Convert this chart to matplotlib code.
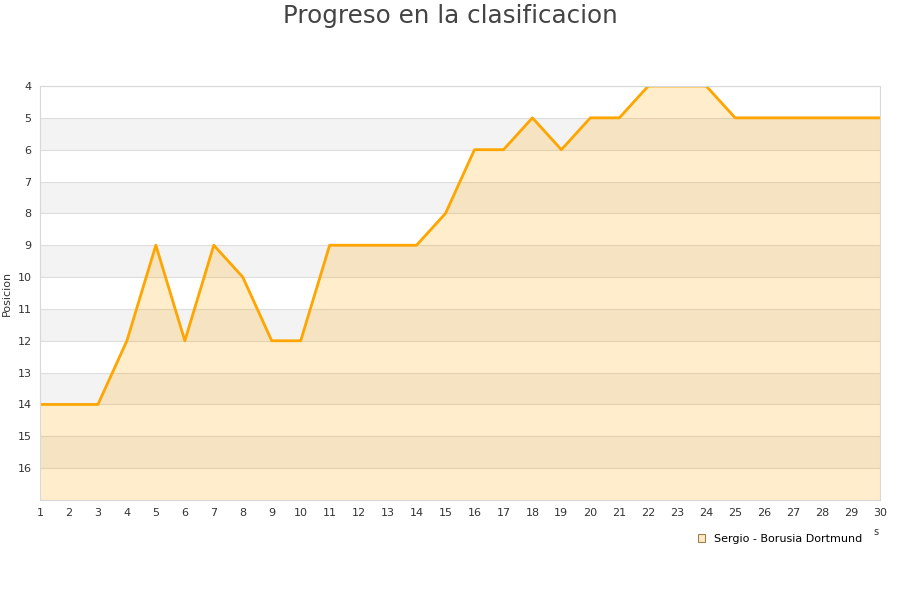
import matplotlib.pyplot as plt
from matplotlib.patches import Patch
import numpy as np

jornadas = list(range(1, 31))
posicion = [14, 14, 14, 12, 9, 12, 9, 10, 12, 12,
            9, 9, 9, 9, 8, 6, 6, 5, 6, 5,
            5, 4, 4, 4, 5, 5, 5, 5, 5, 5]
y_ticks = list(range(4, 17))
serie = 'Sergio - Borusia Dortmund'

fig = plt.figure(figsize=(9, 6), dpi=100)
ax = fig.add_axes([40 / 900, 1 - 500 / 600, 840 / 900, 414 / 600])

# bandas alternas
for k in range(5, 17, 2):
    ax.axhspan(k, k + 1, color='#f3f3f3', zorder=0, lw=0)
for k in range(4, 18):
    ax.axhline(k, color='#dddddd', lw=0.8, zorder=1)

ax.fill_between(jornadas, posicion, 17, color='#ffa500', alpha=0.2, lw=0, zorder=2)
ax.plot(jornadas, posicion, color='#ffa500', lw=2, zorder=3)

ax.set_xlim(1, 30)
ax.set_ylim(17, 4)
ax.set_xticks(jornadas)
ax.set_yticks(y_ticks)
ax.tick_params(length=0, labelsize=8, colors='#333333', pad=6)
for s in ax.spines.values():
    s.set_color('#d8d8d8')
    s.set_zorder(4)
ax.set_ylabel('Posicion', fontsize=8, color='#333333', labelpad=4)

fig.text(0.5, 1 - 16 / 600, 'Progreso en la clasificacion', ha='center', va='center',
         fontsize=17.7, color='#444444')
fig.text(876 / 900, 1 - 532 / 600, 's', fontsize=7, color='#333333', ha='center', va='center')

leg = fig.legend(handles=[Patch(facecolor='#ffe9c0', edgecolor='#a08050', lw=0.8, label=serie)],
                 loc='center', bbox_to_anchor=(780 / 900, 1 - 539 / 600), frameon=False,
                 fontsize=8, handlelength=0.7, handleheight=0.7, handletextpad=0.8)

fig.savefig('out.png', dpi=100)
